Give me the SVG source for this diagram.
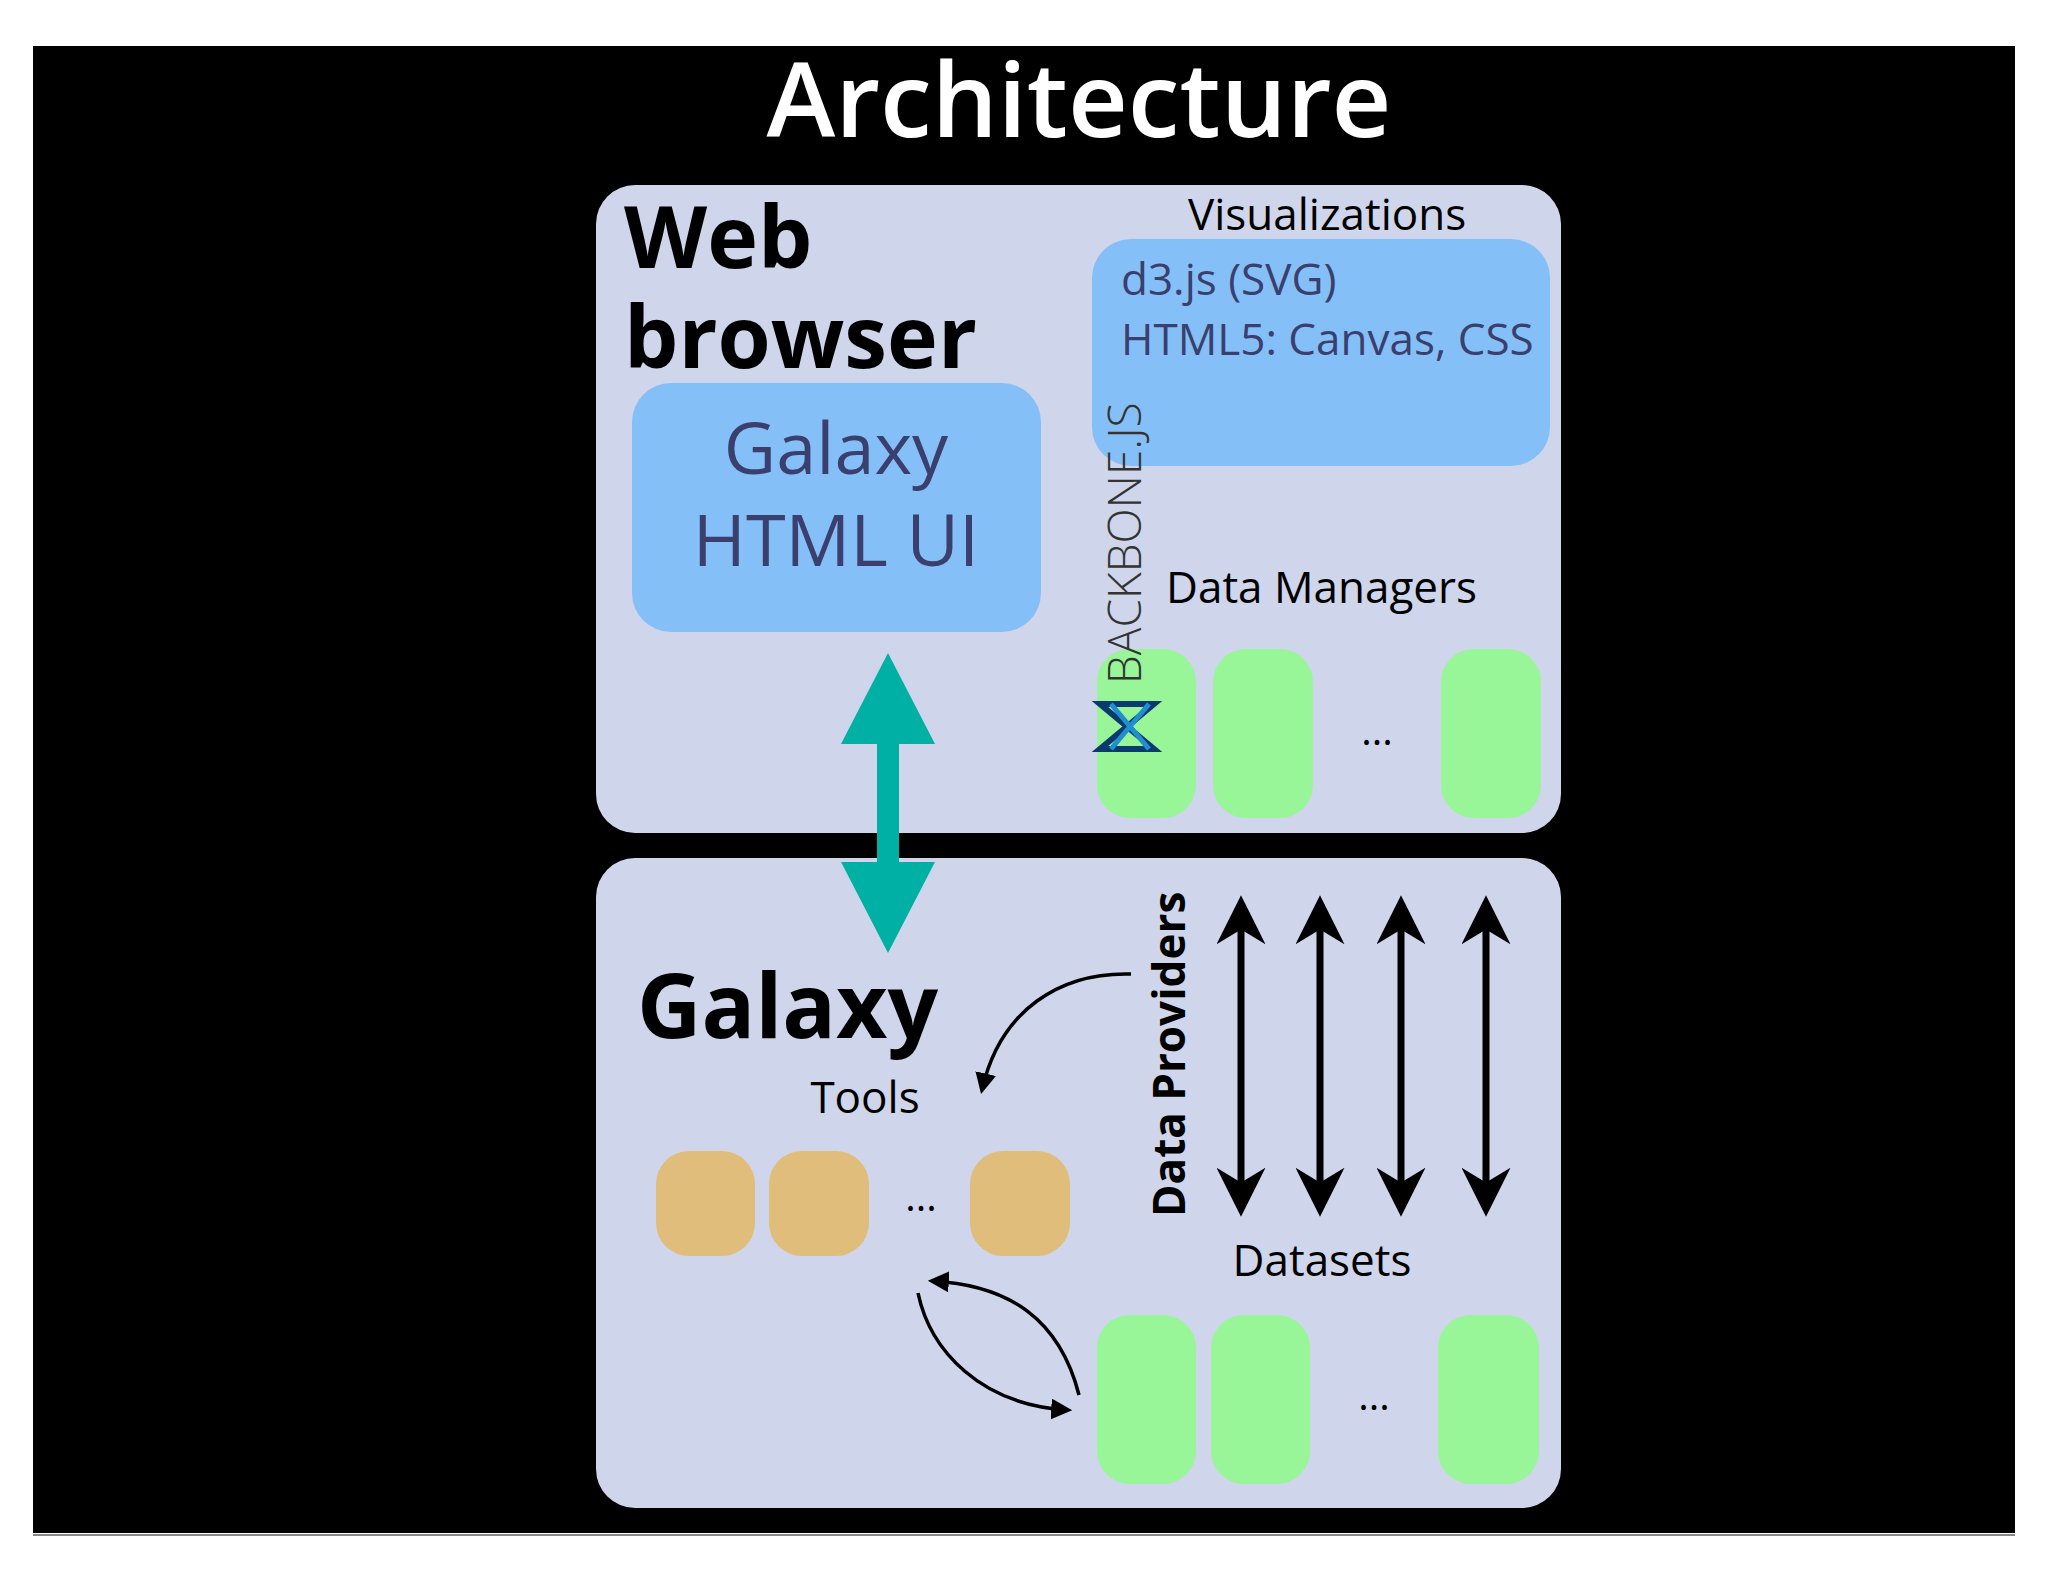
<svg xmlns="http://www.w3.org/2000/svg" width="2048" height="1582" viewBox="0 0 2048 1582">
<style>
.t{font-family:"Open Sans","Liberation Sans",sans-serif;fill:#000}
.b{font-weight:bold}
.panel{fill:#cfd5ea}
.blue{fill:#85bff7}
.green{fill:#98f598}
.tan{fill:#e0bd7a}
.arr{stroke:#000;stroke-width:7;fill:none}
.thin{stroke:#000;stroke-width:3.5;fill:none}
</style>
<defs>
<marker id="ah" viewBox="0 0 10 10" refX="7" refY="5" markerWidth="7" markerHeight="7" orient="auto-start-reverse"><path d="M0,0 L10,5 L0,10 L3,5 z" fill="#000"/></marker>
<marker id="ah2" viewBox="0 0 10 10" refX="8" refY="5" markerWidth="6" markerHeight="6" orient="auto-start-reverse"><path d="M0,0 L10,5 L0,10 z" fill="#000"/></marker>
</defs>
<rect width="2048" height="1582" fill="#fff"/>
<rect x="33" y="46" width="1982" height="1487" fill="#000"/>
<line x1="33" y1="1535" x2="2015" y2="1535" stroke="#888" stroke-width="2"/>
<text class="t" x="1079" y="137" font-size="104" text-anchor="middle" style="fill:#fff" font-weight="600">Architecture</text>

<g id="webbrowser">
<rect class="panel" x="596" y="185" width="965" height="648" rx="39"/>
<text class="t b" x="624" y="268" font-size="86">Web</text>
<text class="t b" x="624" y="368" font-size="86">browser</text>
</g>
<g id="galaxyui">
<rect class="blue" x="632" y="383" width="409" height="249" rx="39"/>
<text class="t" x="836" y="474" font-size="72" text-anchor="middle" style="fill:#3a3f6e">Galaxy</text>
<text class="t" x="836" y="566" font-size="72" text-anchor="middle" style="fill:#3a3f6e">HTML UI</text>
</g>
<g id="visualizations">
<text class="t" x="1188" y="230" font-size="44">Visualizations</text>
<rect class="blue" x="1092" y="239" width="458" height="227" rx="39"/>
<text class="t" x="1121" y="295" font-size="44" style="fill:#3a3f6e">d3.js (SVG)</text>
<text class="t" x="1121" y="355" font-size="44" style="fill:#3a3f6e">HTML5: Canvas, CSS</text>
</g>
<g id="datamanagers">
<text class="t" x="1166" y="603" font-size="44">Data Managers</text>
<rect class="green" x="1097" y="649" width="99" height="169" rx="33"/>
<rect class="green" x="1213" y="649" width="100" height="169" rx="33"/>
<rect class="green" x="1441" y="649" width="100" height="169" rx="33"/>
<text class="t" x="1377" y="745" font-size="40" text-anchor="middle">...</text>
</g>
<g id="backbone">
<text class="t" transform="translate(1141,684) rotate(-90)" font-size="46" font-weight="300" style="fill:#333">BACKBONE.JS</text>
<path d="M1100,704 L1154,704 L1100,749 L1154,749 Z" fill="none" stroke="#0a3a6e" stroke-width="6"/>
<path d="M1111,704 L1149,749 M1149,704 L1111,749" stroke="#1f8fd0" stroke-width="5"/>
</g>

<g id="galaxy">
<rect class="panel" x="596" y="858" width="965" height="650" rx="39"/>
<text class="t b" x="637" y="1038" font-size="89">Galaxy</text>
</g>
<g id="tools">
<text class="t" x="865" y="1113" font-size="44" text-anchor="middle">Tools</text>
<rect class="tan" x="656" y="1151" width="99" height="105" rx="33"/>
<rect class="tan" x="769" y="1151" width="100" height="105" rx="33"/>
<rect class="tan" x="970" y="1151" width="100" height="105" rx="33"/>
<text class="t" x="921" y="1211" font-size="40" text-anchor="middle">...</text>
</g>
<g id="dataproviders">
<text class="t b" transform="translate(1185,1217) rotate(-90)" font-size="44">Data Providers</text>
</g>
<g id="datasets">
<text class="t" x="1322" y="1276" font-size="44" text-anchor="middle">Datasets</text>
<rect class="green" x="1097" y="1315" width="99" height="169" rx="33"/>
<rect class="green" x="1211" y="1315" width="99" height="169" rx="33"/>
<rect class="green" x="1438" y="1315" width="101" height="169" rx="33"/>
<text class="t" x="1374" y="1410" font-size="40" text-anchor="middle">...</text>
</g>

<g id="connectors">
<path d="M888,653 L935,744 L899,744 L899,862 L935,862 L888,953 L841,862 L877,862 L877,744 L841,744 Z" fill="#00b0a5"/>
<line class="arr" x1="1241" y1="910" x2="1241" y2="1202" marker-start="url(#ah)" marker-end="url(#ah)"/>
<line class="arr" x1="1320" y1="910" x2="1320" y2="1202" marker-start="url(#ah)" marker-end="url(#ah)"/>
<line class="arr" x1="1401" y1="910" x2="1401" y2="1202" marker-start="url(#ah)" marker-end="url(#ah)"/>
<line class="arr" x1="1486" y1="910" x2="1486" y2="1202" marker-start="url(#ah)" marker-end="url(#ah)"/>
<path class="thin" d="M1131,974 C1060,972 1000,1010 982,1090" marker-end="url(#ah2)"/>
<path class="thin" d="M1079,1395 C1060,1320 1010,1285 932,1281" marker-end="url(#ah2)"/>
<path class="thin" d="M918,1293 C930,1350 980,1405 1068,1410" marker-end="url(#ah2)"/>
</g>
</svg>
